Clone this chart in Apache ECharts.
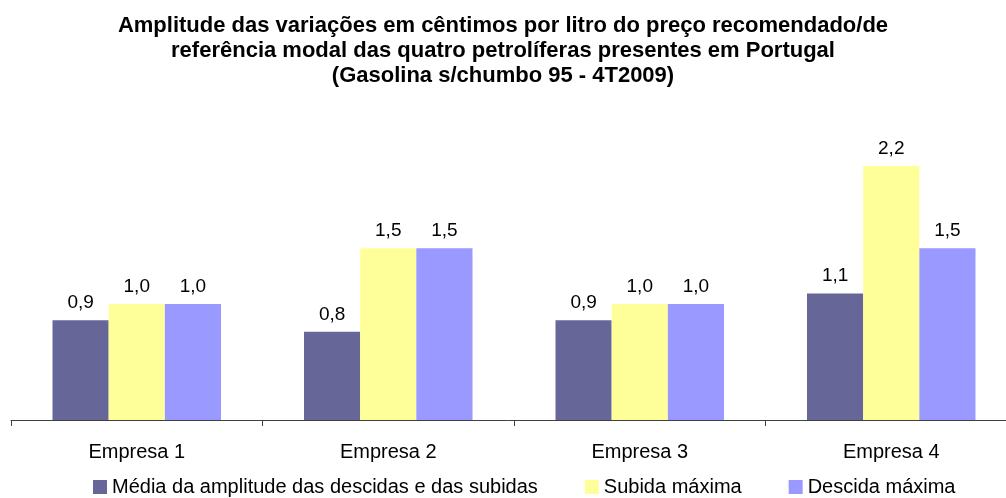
<!DOCTYPE html>
<html>
<head>
<meta charset="utf-8">
<script src="https://cdn.jsdelivr.net/npm/echarts@6/dist/echarts.min.js"></script>
<style>
  html, body { margin: 0; padding: 0; background: #fff; }
  #chart { width: 1006px; height: 498px; }
</style>
</head>
<body>
<div id="chart"></div>
<script>
// dados
const categories = ['Empresa 1', 'Empresa 2', 'Empresa 3', 'Empresa 4'];
const mediaAmplitude = [0.86, 0.76, 0.86, 1.09];
const subidaMaxima = [1.0, 1.48, 1.0, 2.19];
const descidaMaxima = [1.0, 1.48, 1.0, 1.48];
const seriesNames = ['Média da amplitude das descidas e das subidas', 'Subida máxima', 'Descida máxima'];

const font = 'Liberation Sans, Arial, sans-serif';

// rótulo com vírgula decimal
const fmt = (p) => (Math.round(p.value * 10) / 10).toFixed(1).replace('.', ',');

const makeSeries = (name, data, color) => ({
  name: name,
  type: 'bar',
  data: data,
  barGap: '0%',
  barCategoryGap: '33%',
  itemStyle: { color: color },
  label: {
    show: true,
    position: 'top',
    distance: 8,
    formatter: fmt,
    color: '#000',
    fontSize: 19,
    fontFamily: font
  }
});

const chart = echarts.init(document.getElementById('chart'));
chart.setOption({
  animation: false,
  title: {
    text: 'Amplitude das variações em cêntimos por litro do preço recomendado/de\nreferência modal das quatro petrolíferas presentes em Portugal\n(Gasolina s/chumbo 95 - 4T2009)',
    left: 'center',
    top: 8,
    textStyle: {
      fontFamily: font,
      fontWeight: 'bold',
      fontSize: 22,
      lineHeight: 25,
      color: '#000'
    }
  },
  legend: {
    top: 477,
    left: 93,
    padding: 0,
    icon: 'rect',
    itemWidth: 14,
    itemHeight: 14,
    itemGap: 47,
    textStyle: { fontFamily: font, fontSize: 20, color: '#000' },
    data: seriesNames
  },
  grid: { left: 11, width: 1006, top: 130, bottom: 78, outerBoundsMode: 'none' },
  xAxis: {
    type: 'category',
    data: categories,
    axisLine: { lineStyle: { color: '#404040', width: 1 } },
    axisTick: { show: true, length: 6, lineStyle: { color: '#404040' } },
    axisLabel: { color: '#000', fontFamily: font, fontSize: 20, margin: 22 }
  },
  yAxis: {
    type: 'value',
    min: 0,
    max: 2.5,
    show: false
  },
  series: [
    makeSeries(seriesNames[0], mediaAmplitude, '#666699'),
    makeSeries(seriesNames[1], subidaMaxima, '#FFFF99'),
    makeSeries(seriesNames[2], descidaMaxima, '#9999FF')
  ]
});
</script>
</body>
</html>
